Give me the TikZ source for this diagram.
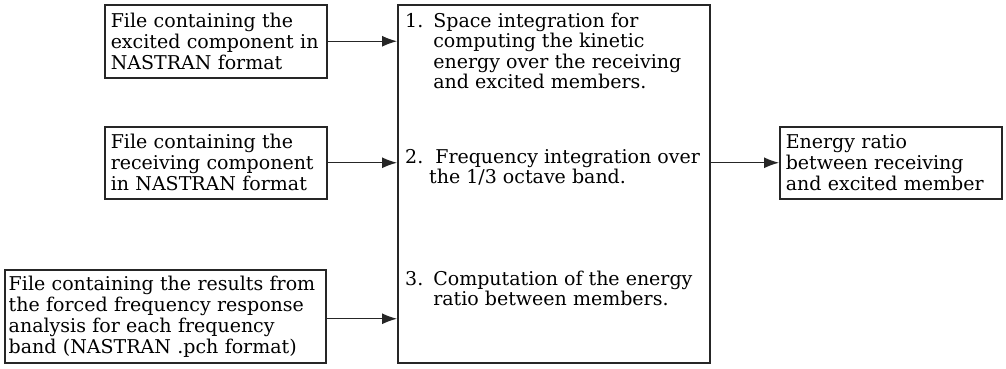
\documentclass[tikz,border=0pt]{standalone}
\usepackage{fontspec}
\setmainfont{DejaVu Serif}
\usetikzlibrary{arrows.meta}

\tikzset{
  box/.style={draw=black!85, line width=1.5pt, anchor=north west, align=left,
    inner ysep=0pt, font=\fontsize{19}{21}\selectfont},
  steptext/.style={anchor=base west, inner sep=0pt, font=\fontsize{19}{20.5}\selectfont},
  flow/.style={draw=black!85, line width=1.2pt, -{Latex[length=15pt,width=11pt]}}
}

\begin{document}
\begin{tikzpicture}[x=1pt, y=-1pt]
  \useasboundingbox (0,0) rectangle (1006,368);

  % input files
  \node[box, minimum width=222pt, minimum height=73pt, text width=210pt, inner xsep=6pt]
    (excited) at (104,4) {File containing the\\excited component in\\NASTRAN format};
  \node[box, minimum width=222pt, minimum height=72pt, text width=210pt, inner xsep=6pt]
    (receiving) at (104,126) {File containing the\\receiving component\\in NASTRAN format};
  \node[box, minimum width=321pt, minimum height=93pt, text width=313pt, inner xsep=4pt]
    (results) at (4,269) {File containing the results from\\the forced frequency response\\analysis for each frequency\\band (NASTRAN .pch format)};

  % processing
  \node[box, minimum width=312pt, minimum height=358pt] (proc) at (397,4) {};
  \node[steptext] (step1) at (405,27)
    {\begin{tabular}[t]{@{}l@{\hspace{10pt}}l@{}}1. & Space integration for\\ & computing the kinetic\\ & energy over the receiving\\ & and excited members.\end{tabular}};
  \node[steptext] (step2) at (405,163)
    {\begin{tabular}[t]{@{}l@{\hspace{12pt}}l@{}}2. & Frequency integration over\\ \multicolumn{2}{@{\hspace{24pt}}l@{}}{the 1/3 octave band.}\end{tabular}};
  \node[steptext] (step3) at (405,285)
    {\begin{tabular}[t]{@{}l@{\hspace{10pt}}l@{}}3. & Computation of the energy\\ & ratio between members.\end{tabular}};

  % result
  \node[box, minimum width=222pt, minimum height=72pt, text width=210pt, inner xsep=6pt]
    (ratio) at (779,126) {Energy ratio\\between receiving\\and excited member};

  % connectors
  \draw[flow] (excited.east) -- (excited.east -| proc.west);
  \draw[flow] (receiving.east) -- (receiving.east -| proc.west);
  \draw[flow] ([yshift=-2.5pt]results.east) -- ([yshift=-2.5pt]results.east -| proc.west);
  \draw[flow] (ratio.west -| proc.east) -- (ratio.west);
\end{tikzpicture}
\end{document}
